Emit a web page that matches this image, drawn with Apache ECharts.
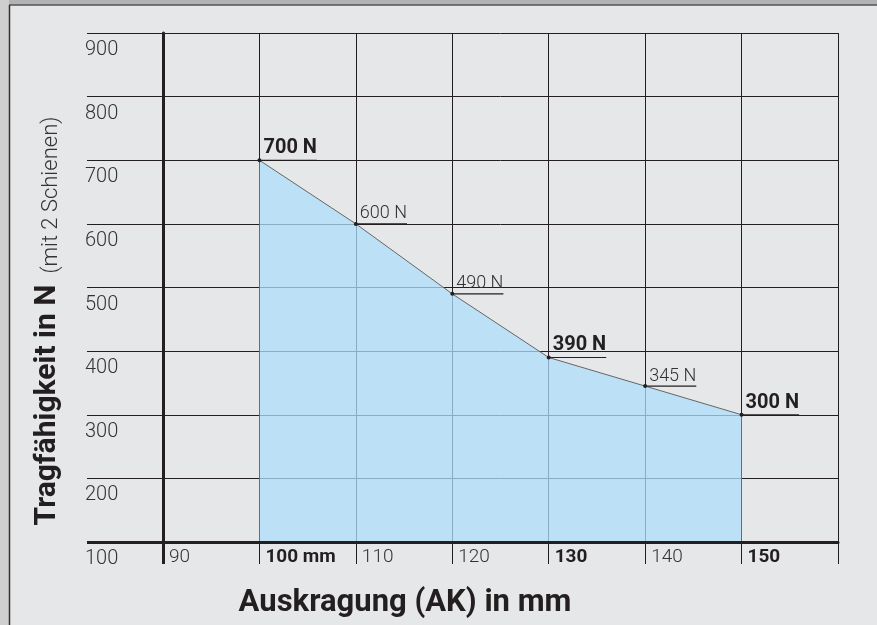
<!DOCTYPE html>
<html>
<head>
<meta charset="utf-8">
<script src="https://cdn.jsdelivr.net/npm/echarts@6/dist/echarts.min.js"></script>
<style>
  html, body { margin: 0; padding: 0; background: #e6e7e8; }
  #chart { width: 877px; height: 625px; }
</style>
</head>
<body>
<div id="chart"></div>
<script>
// ---- data ----
const xValues     = [100, 110, 120, 130, 140, 150];          // Auskragung (mm)
const loadValues  = [700, 600, 490, 390, 345, 300];          // Tragfähigkeit (N)
const pointLabels = ['700 N', '600 N', '490 N', '390 N', '345 N', '300 N'];
const boldPoints  = [true, false, false, true, false, true];
const xTickLabels = { 90: '90', 100: '100 mm', 110: '110', 120: '120', 130: '130', 140: '140', 150: '150', 160: '' };
const boldXTicks  = [100, 130, 150];
const yMin = 100, yMax = 900, yStep = 100;
const xMin = 90, xMax = 160, xStep = 10;

const INK = '#231f20';
const FONT = 'Roboto, "Liberation Sans", sans-serif';

const measureCtx = document.createElement('canvas').getContext('2d');
function textWidth(t, font) { measureCtx.font = font; return measureCtx.measureText(t).width; }

const seriesData = xValues.map((x, i) => [x, loadValues[i]]);

const chart = echarts.init(document.getElementById('chart'), null, { renderer: 'canvas' });

chart.setOption({
  animation: false,
  backgroundColor: '#e6e7e8',
  grid: { left: 163, right: 39, top: 33, bottom: 83, outerBoundsMode: 'none', containLabel: false },
  xAxis: [
    {
      type: 'value', min: xMin, max: xMax, interval: xStep, position: 'bottom',
      axisLine: { show: false, onZero: false },
      axisTick: { show: true, length: 22, lineStyle: { color: INK, width: 1 } },
      splitLine: { show: true, lineStyle: { color: INK, width: 1 } },
      axisLabel: {
        show: true, align: 'left', margin: 6, padding: [0, 0, 0, 6],
        formatter: v => {
          const t = xTickLabels[v] || '';
          if (!t) return '';
          return boldXTicks.includes(v) ? '{b|' + t + '}' : '{l|' + t + '}';
        },
        rich: {
          b: { fontFamily: FONT, fontSize: 19, fontWeight: 'bold', color: INK },
          l: { fontFamily: FONT, fontSize: 19, fontWeight: 300, color: '#333' }
        }
      }
    },
    {
      type: 'value', min: xMin, max: xMax, interval: xStep, z: 5, position: 'bottom',
      axisLine: { show: true, onZero: false, lineStyle: { color: INK, width: 3 } },
      axisTick: { show: true, length: 22, customValues: [90], lineStyle: { color: INK, width: 3 } },
      splitLine: { show: false },
      axisLabel: { show: false }
    }
  ],
  yAxis: [
    {
      type: 'value', min: yMin, max: yMax, interval: yStep, position: 'left',
      axisLine: { show: true, onZero: false, lineStyle: { color: INK, width: 3 } },
      axisTick: { show: true, length: 76, lineStyle: { color: INK, width: 1 } },
      splitLine: { show: true, lineStyle: { color: INK, width: 1 } },
      axisLabel: {
        show: true, align: 'left', verticalAlign: 'top', margin: 78, lineHeight: 34,
        fontFamily: FONT, fontSize: 20, fontWeight: 300, color: '#333'
      }
    },
    {
      type: 'value', min: yMin, max: yMax, interval: yStep, position: 'left', z: 5,
      axisLine: { show: false },
      axisTick: { show: true, length: 76, customValues: [100], lineStyle: { color: INK, width: 3 } },
      splitLine: { show: false },
      axisLabel: { show: false }
    }
  ],
  series: [
    {
      type: 'line',
      data: seriesData,
      xAxisIndex: 0, yAxisIndex: 0,
      symbol: 'circle', symbolSize: 4,
      itemStyle: { color: INK },
      lineStyle: { color: '#666', width: 1 },
      areaStyle: { color: 'rgb(173,222,250)', opacity: 0.75 },
      z: 2
    },
    {
      type: 'custom',
      data: seriesData,
      xAxisIndex: 0, yAxisIndex: 0,
      z: 4,
      clip: false,
      renderItem: (params, api) => {
        const i = params.dataIndex;
        const p = api.coord([api.value(0), api.value(1)]);
        const bold = boldPoints[i];
        const size = bold ? 20 : 18;
        const weight = bold ? 'bold' : 300;
        const w = textWidth(pointLabels[i], weight + ' ' + size + 'px ' + FONT);
        const tx = p[0] + 4;
        return {
          type: 'group',
          children: [
            { type: 'line', shape: { x1: p[0], y1: p[1], x2: tx + w, y2: p[1] },
              style: { stroke: INK, lineWidth: 1.2 } },
            { type: 'text', x: tx, y: p[1] - (bold ? 12 : 10),
              style: { text: pointLabels[i], fontFamily: FONT, fontSize: size, fontWeight: weight,
                       fill: bold ? INK : '#333', align: 'left', verticalAlign: 'middle' } }
          ]
        };
      }
    }
  ],
  graphic: [
    { type: 'rect', shape: { x: 0, y: 0, width: 877, height: 5 }, style: { fill: '#b3b3b3' }, z: 10 },
    { type: 'rect', shape: { x: 0, y: 0, width: 9, height: 625 }, style: { fill: '#cfcfcf' }, z: 10 },
    { type: 'line', shape: { x1: 9, y1: 5, x2: 877, y2: 5 }, style: { stroke: '#555', lineWidth: 1.5 }, z: 11 },
    { type: 'line', shape: { x1: 9.5, y1: 5, x2: 9.5, y2: 625 }, style: { stroke: '#333', lineWidth: 1.5 }, z: 11 },
    {
      type: 'text', x: 405, y: 603, z: 10,
      style: { text: 'Auskragung (AK) in mm', fontFamily: FONT, fontSize: 31, fontWeight: 'bold',
               fill: INK, align: 'center', verticalAlign: 'middle' }
    },
    {
      type: 'text', x: 47, y: 321, rotation: Math.PI / 2, z: 10,
      style: {
        text: '{b|Tragfähigkeit in N}{g| }{l|(mit 2 Schienen)}',
        align: 'center', verticalAlign: 'middle',
        rich: {
          b: { fontFamily: FONT, fontSize: 30, fontWeight: 'bold', fill: INK, verticalAlign: 'bottom' },
          g: { fontFamily: FONT, fontSize: 22, fill: INK, verticalAlign: 'bottom', width: 11 },
          l: { fontFamily: FONT, fontSize: 22, fontWeight: 300, fill: '#333', verticalAlign: 'bottom' }
        }
      }
    }
  ]
});
</script>
</body>
</html>
